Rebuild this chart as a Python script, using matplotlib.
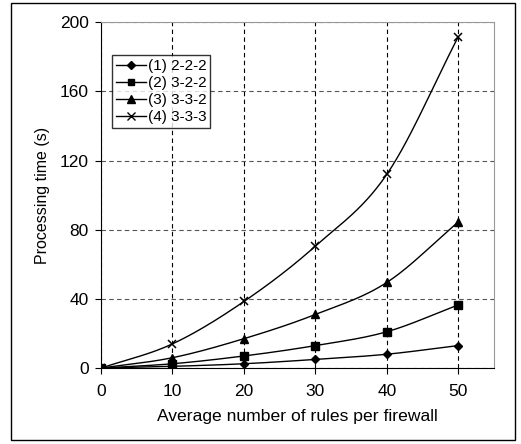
import numpy as np
import matplotlib
matplotlib.use("Agg")
from matplotlib import pyplot as plt
from matplotlib.patches import Rectangle

plt.rcParams['font.family'] = ['Liberation Sans', 'DejaVu Sans']

# data
rules = [0, 10, 20, 30, 40, 50]
s1 = [0, 1, 2.5, 5, 8, 13]
s2 = [0, 2.5, 7, 13, 21, 36.5]
s3 = [0, 6, 17, 31, 49.5, 84.5]
s4 = [0, 14, 38.5, 70.5, 112, 191.5]
names = ['(1) 2-2-2', '(2) 3-2-2', '(3) 3-3-2', '(4) 3-3-3']
markers = ['D', 's', '^', 'x']
msizes = [4.5, 5.5, 6, 6]


def smooth(x, y, n=30):
    # catmull-rom curve through the points, like excel's smoothed line
    x = np.asarray(x, float)
    y = np.asarray(y, float)
    px = np.concatenate([[2 * x[0] - x[1]], x, [2 * x[-1] - x[-2]]])
    py = np.concatenate([[2 * y[0] - y[1]], y, [2 * y[-1] - y[-2]]])
    ox, oy = [], []
    t = np.linspace(0, 1, n)
    for i in range(1, len(px) - 2):
        for p, o in ((px, ox), (py, oy)):
            p0, p1, p2, p3 = p[i - 1], p[i], p[i + 1], p[i + 2]
            o.extend(0.5 * ((2 * p1) + (-p0 + p2) * t +
                            (2 * p0 - 5 * p1 + 4 * p2 - p3) * t ** 2 +
                            (-p0 + 3 * p1 - 3 * p2 + p3) * t ** 3))
    return ox, oy


fig = plt.figure(figsize=(5.21, 4.44), dpi=100)
ax = fig.add_axes([0.194, 0.171, 0.754, 0.779])

for ys, nm, mk, ms in zip([s1, s2, s3, s4], names, markers, msizes):
    sx, sy = smooth(rules, ys)
    ax.plot(sx, sy, color='black', lw=1, zorder=3)
    ax.plot(rules, ys, linestyle='none', marker=mk, ms=ms, color='black',
            mew=1.1 if mk == 'x' else 1, zorder=4)
    ax.plot([], [], color='black', lw=1, marker=mk, ms=ms * 0.9, label=nm)

ax.set_xlim(0, 55)
ax.set_ylim(0, 200)
ax.set_xticks([0, 10, 20, 30, 40, 50])
ax.set_yticks([0, 40, 80, 120, 160, 200])
ax.xaxis.grid(True, color='black', linestyle=(0, (4, 3)), lw=0.8)
ax.yaxis.grid(True, color='#555555', linestyle=(0, (4, 3)), lw=0.8)
ax.tick_params(labelsize=12.5, length=4, direction='out', color='black')
ax.tick_params(axis='x', pad=7.5)
ax.tick_params(axis='y', pad=5)
ax.spines['top'].set_color('#999999')
ax.spines['right'].set_color('#999999')
ax.set_xlabel('Average number of rules per firewall', fontsize=12.6, labelpad=7)
ax.set_ylabel('Processing time (s)', fontsize=11.5, labelpad=7)

leg = ax.legend(loc='upper left', bbox_to_anchor=(0.028, 0.905), fontsize=11,
                frameon=True, fancybox=False, edgecolor='black',
                handlelength=2.0, handletextpad=0.1, borderpad=0.25,
                labelspacing=0.2, borderaxespad=0)
leg.get_frame().set_linewidth(1)

fig.patches.append(Rectangle((0.021, 0.009), 0.968, 0.984, transform=fig.transFigure,
                             fill=False, edgecolor='black', lw=1))

fig.savefig('out.png', dpi=100)
